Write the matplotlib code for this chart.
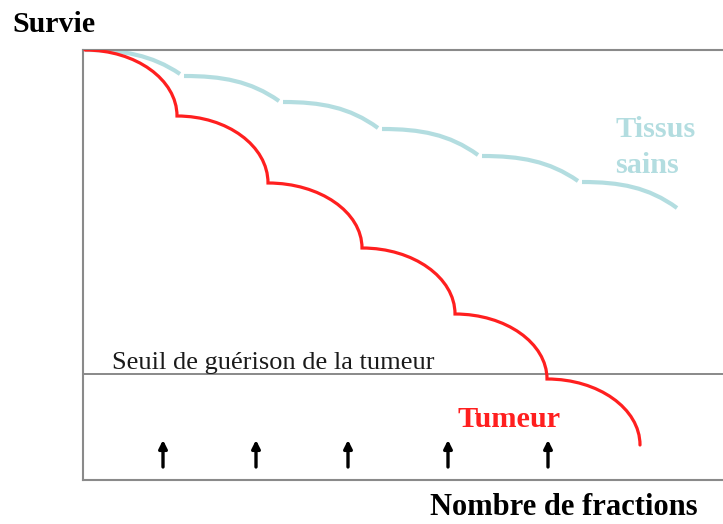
import matplotlib
matplotlib.use("Agg")
import matplotlib.pyplot as plt
from matplotlib.path import Path
from matplotlib.patches import PathPatch

# ---- data (schematic units: x = fractions axis, y = survival axis) ----
tumor_x = [2, 94, 185, 279, 372, 464, 557]
tumor_y = [430, 364, 297, 232, 166, 101, 35]

healthy_start_x = [2, 101, 200, 299, 399, 499]
healthy_start_y = [430, 404, 378, 351, 324, 298]
healthy_end_x = [97, 196, 295, 395, 495, 594]
healthy_end_y = [406, 379, 352, 325, 299, 272]

fraction_arrows_x = [80, 173, 265, 365, 465]
arrow_y0, arrow_y1 = 13, 40
threshold_y = 106

RED = "#ff1f1f"
CYAN = "#b3dde0"
SERIF = ["Liberation Serif", "DejaVu Serif"]

W, H = 723, 524
fig = plt.figure(figsize=(W / 100, H / 100), dpi=100)
ax = fig.add_axes([83 / W, 44 / H, (W - 83) / W, 430 / H])
ax.set_xlim(0, 640)
ax.set_ylim(0, 430)
ax.set_xticks([])
ax.set_yticks([])
for s in ("left", "top", "bottom"):
    ax.spines[s].set_color("#8a8a8a")
    ax.spines[s].set_linewidth(1.5)
ax.spines["right"].set_visible(False)

# threshold line
ax.axhline(threshold_y, color="#808080", lw=1.3, zorder=1)

# tumour curve: successive quarter-ellipse shoulders
k = 0.5523
verts, codes = [(tumor_x[0], tumor_y[0])], [Path.MOVETO]
for i in range(len(tumor_x) - 1):
    x0, y0, x1, y1 = tumor_x[i], tumor_y[i], tumor_x[i + 1], tumor_y[i + 1]
    verts += [(x0 + k * (x1 - x0), y0), (x1, y1 + k * (y0 - y1)), (x1, y1)]
    codes += [Path.CURVE4] * 3
ax.add_patch(PathPatch(Path(verts, codes), fill=False, edgecolor=RED, lw=2.3,
                       capstyle="round", joinstyle="miter", zorder=3))

# healthy tissue curve: separate shallow shoulders
for x0, y0, x1, y1 in zip(healthy_start_x, healthy_start_y, healthy_end_x, healthy_end_y):
    a, b = x1 - x0, y0 - y1
    v = [(x0, y0), (x0 + 0.4 * a, y0), (x0 + 0.7 * a, y0 - 0.2 * b), (x1, y1)]
    c = [Path.MOVETO, Path.CURVE4, Path.CURVE4, Path.CURVE4]
    ax.add_patch(PathPatch(Path(v, c), fill=False, edgecolor=CYAN, lw=3.0,
                           capstyle="butt", zorder=2))

# fraction arrows
for xa in fraction_arrows_x:
    ax.annotate("", xy=(xa, arrow_y1), xytext=(xa, arrow_y0),
                arrowprops=dict(arrowstyle="-|>", color="black", lw=2.4,
                                mutation_scale=12, shrinkA=0, shrinkB=0))

# texts
ax.text(112 - 83, 480 - 369, "Seuil de guérison de la tumeur", family=SERIF,
        fontsize=19, color="#1a1a1a", va="baseline", ha="left")
ax.text(457 - 83, 480 - 427, "Tumeur", family=SERIF, fontsize=21.8,
        fontweight="bold", color=RED, va="baseline", ha="left")
ax.text(615 - 83, 480 - 137, "Tissus", family=SERIF, fontsize=21.8,
        fontweight="bold", color=CYAN, va="baseline", ha="left", clip_on=False)
ax.text(615 - 83, 480 - 173, "sains", family=SERIF, fontsize=21.8,
        fontweight="bold", color=CYAN, va="baseline", ha="left", clip_on=False)

fig.text(12 / W, 1 - 32 / H, "Survie", family=SERIF, fontsize=21.5,
         fontweight="bold", color="black", va="baseline", ha="left")
fig.text(430 / W, 1 - 515 / H, "Nombre de fractions", family=SERIF, fontsize=22,
         fontweight="bold", color="black", va="baseline", ha="left")

fig.savefig("out.png", dpi=100)
